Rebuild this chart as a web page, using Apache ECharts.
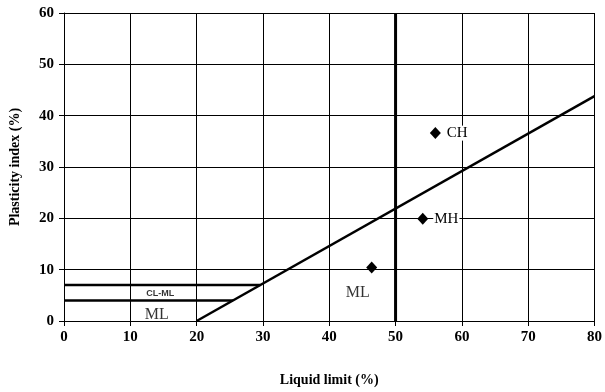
<!DOCTYPE html>
<html><head><meta charset="utf-8">
<script src="https://cdn.jsdelivr.net/npm/echarts@6/dist/echarts.min.js"></script>
<style>html,body{margin:0;padding:0;background:#fff}#c{width:605px;height:392px}</style>
</head><body><div id="c"></div>
<script>
var xTicks = [0,10,20,30,40,50,60,70,80];
var yTicks = [0,10,20,30,40,50,60];
var aLine = [[20,0],[80,43.8]];
var clmlUpper = [[0,7],[29.6,7]];
var clmlLower = [[0,4],[25.5,4]];
var llLine = [[50,0],[50,60]];
var samples = [[56,36.6,'CH'],[54.1,19.9,'MH'],[46.4,10.4,'']];
var zoneLabels = [[44.3,5.4,'ML'],[14,1.3,'ML']];
var clmlLabel = [[14.5,5.3,'CL-ML']];

var serif = 'Liberation Serif';
var chart = echarts.init(document.getElementById('c'));
function lineSeries(d, w){
  return {type:'line', data:d, symbol:'none', lineStyle:{color:'#000', width:w}, silent:true, animation:false, z:3};
}
chart.setOption({
  animation:false,
  grid:{left:63, right:7, top:13, bottom:69, containLabel:false},
  xAxis:{type:'value', min:xTicks[0], max:xTicks[xTicks.length-1], interval:10,
    name:'Liquid limit (%)', nameLocation:'middle', nameGap:52,
    nameTextStyle:{fontFamily:serif, fontWeight:'bold', fontSize:14, color:'#000'},
    axisLine:{lineStyle:{color:'#000', width:1}},
    axisTick:{show:true, inside:false, length:5, lineStyle:{color:'#000'}},
    axisLabel:{fontFamily:serif, fontWeight:'bold', fontSize:15, color:'#000', margin:9},
    splitLine:{show:true, lineStyle:{color:'#000', width:1}}},
  yAxis:{type:'value', min:yTicks[0], max:yTicks[yTicks.length-1], interval:10,
    name:'Plasticity index (%)', nameLocation:'middle', nameGap:42, nameRotate:90,
    nameTextStyle:{fontFamily:serif, fontWeight:'bold', fontSize:14, color:'#000'},
    axisLine:{show:true, lineStyle:{color:'#000', width:1}},
    axisTick:{show:true, inside:false, length:5, lineStyle:{color:'#000'}},
    axisLabel:{fontFamily:serif, fontWeight:'bold', fontSize:15, color:'#000', margin:10},
    splitLine:{show:true, lineStyle:{color:'#000', width:1}}},
  series:[
    lineSeries(aLine, 2.5),
    lineSeries(clmlUpper, 2.5),
    lineSeries(clmlLower, 2.5),
    lineSeries(llLine, 3),
    {type:'scatter', data:samples, symbol:'diamond', symbolSize:[11,12], itemStyle:{color:'#000', opacity:1}, z:5,
     label:{show:true, position:'right', distance:5, formatter:function(p){return p.data[2];},
       fontFamily:serif, fontSize:15, color:'#000', backgroundColor:'#fff', padding:[0,1]}},
    {type:'scatter', data:zoneLabels, symbolSize:0, z:5,
     label:{show:true, position:'inside', formatter:function(p){return p.data[2];},
       fontFamily:serif, fontSize:16, color:'#000'}},
    {type:'scatter', data:clmlLabel, symbolSize:0, z:5,
     label:{show:true, position:'inside', formatter:function(p){return p.data[2];},
       fontFamily:'Liberation Sans', fontWeight:'bold', fontSize:9, color:'#000'}}
  ]
});
</script></body></html>
